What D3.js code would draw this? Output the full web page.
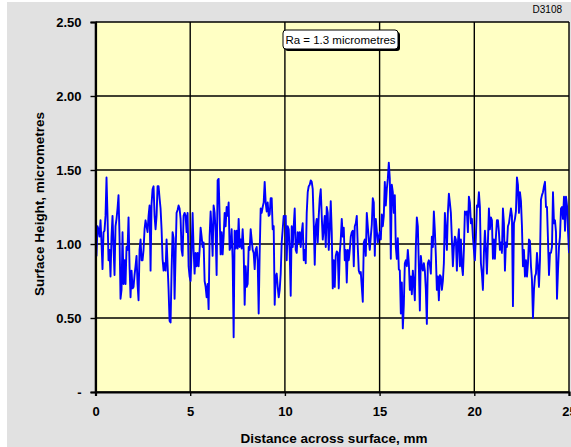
<!DOCTYPE html>
<html>
<head>
<meta charset="utf-8">
<script src="https://cdn.jsdelivr.net/npm/d3@7"></script>
<style>
	html, body { margin: 0; padding: 0; background: #ffffff; }
	svg { display: block; }
	text { font-family: Arial, "Liberation Sans", sans-serif; }
</style>
</head>
<body>
<script>
	/**
	 * Data
	 */
	let profileLength = 25; // mm
	let heights = [
		1.05, 0.92, 1.12, 1.10, 1.05, 1.16, 1.01, 0.83, 1.08, 1.09, 1.19, 1.45, 1.19, 0.89, 0.96, 0.78, 1.05, 1.19, 0.98, 0.79,
		1.12, 1.17, 1.24, 1.33, 1.05, 0.63, 0.69, 1.08, 0.73, 0.89, 0.73, 0.98, 0.96, 1.18, 0.85, 0.64, 0.82, 0.70, 0.71, 0.79,
		0.85, 0.92, 0.73, 0.62, 0.96, 1.03, 0.89, 0.89, 0.96, 1.10, 1.16, 1.12, 1.08, 1.19, 1.26, 0.82, 1.27, 1.37, 1.39, 1.19,
		1.10, 1.19, 1.39, 1.39, 1.31, 1.24, 1.10, 0.90, 0.82, 0.87, 0.82, 1.03, 0.86, 0.69, 0.48, 0.47, 0.82, 1.08, 1.04, 0.63,
		0.92, 1.21, 1.23, 1.26, 1.24, 1.17, 0.96, 0.92, 1.19, 1.21, 1.19, 1.08, 1.21, 0.85,
		0.78, 0.75, 0.96, 1.21, 0.96, 0.80, 0.94, 0.85, 0.94, 0.85, 0.96, 1.11, 1.05, 0.98, 1.01, 0.75, 0.71, 0.64, 0.73, 0.56,
		1.05, 1.22, 1.10, 0.92, 1.26, 1.21, 1.08, 0.79, 1.43, 1.44, 1.19, 0.93, 1.08, 0.93, 1.05, 1.21, 1.12, 1.25, 1.19, 1.28,
		0.96, 0.98, 1.10, 0.89, 0.37, 1.09, 0.97, 1.09, 0.97, 1.17, 0.98, 1.03, 0.97, 1.10, 0.96, 0.59, 0.85, 0.71, 0.73, 0.98,
		0.96, 1.10, 1.03, 0.96, 0.94, 0.83, 0.96, 0.98, 0.89, 0.53, 0.94, 1.24, 1.21, 1.25, 1.28, 1.42, 1.28, 1.22, 1.28, 1.19,
		1.20, 1.31, 1.31, 1.10, 1.12, 0.59, 0.78, 0.80, 0.71, 0.64, 0.69, 0.80, 1.01, 1.10, 1.19,
		1.18, 1.19, 0.89, 1.12, 1.10, 0.94, 0.65, 1.12, 0.98, 1.12, 1.24, 0.96, 0.94, 1.08, 1.01, 1.08, 0.98, 1.08, 1.14, 0.89,
		0.96, 0.87, 1.21, 1.35, 1.39, 1.40, 1.43, 1.42, 1.37, 1.14, 0.86, 1.12, 1.17, 1.01, 1.19, 1.31, 1.37, 1.19, 1.03, 1.10,
		1.19, 0.98, 1.25, 1.21, 0.96, 1.10, 1.29, 1.08, 0.70, 0.89, 0.71, 0.92, 0.95, 0.94, 0.70, 0.94, 1.03, 1.17, 1.05, 1.11,
		0.89, 0.96, 0.74, 0.96, 0.89, 0.96, 1.05, 1.08, 1.09, 0.85, 1.12, 1.14, 1.19, 0.98, 0.82, 0.80, 0.81, 0.71, 0.61, 1.01,
		1.03, 0.92, 1.21, 1.12, 1.03, 0.96, 1.05, 1.13, 1.31, 1.28, 0.92, 1.17, 1.09, 1.01, 1.05,
		1.08, 1.03, 1.20, 1.12, 1.19, 1.42, 1.26, 1.37, 1.44, 1.55, 1.44, 0.90, 1.40, 1.35, 1.21, 1.33, 0.98, 0.90, 1.04, 0.83,
		0.82, 0.53, 0.74, 0.43, 0.59, 0.87, 0.89, 0.85, 0.96, 0.87, 0.69, 0.78, 0.66, 0.82, 0.73, 0.62, 0.98, 1.18, 1.12, 0.85,
		0.55, 0.92, 0.85, 0.82, 0.87, 0.82, 0.69, 0.46, 0.87, 0.89, 0.86, 0.80, 1.05, 0.98, 1.22, 1.09, 0.92, 0.69, 0.78, 0.62,
		0.79, 0.78, 0.69, 0.75, 0.87, 1.21, 1.10, 0.96, 1.21, 1.34, 1.28, 1.21, 1.03, 0.85, 0.98, 1.05, 1.03, 0.82, 1.01, 1.10,
		0.85, 1.03, 0.85, 0.79, 0.96, 1.22, 1.20, 1.22, 1.08, 1.32, 1.28, 1.14, 1.17, 1.05, 0.96,
		0.89, 1.05, 1.26, 1.25, 1.35, 1.25, 0.87, 0.80, 0.69, 0.94, 1.09, 0.96, 0.80, 1.01, 1.24, 1.10, 1.18, 1.16, 0.90, 1.03,
		0.90, 1.05, 1.16, 1.16, 1.08, 0.96, 1.01, 0.94, 1.24, 1.14, 0.82, 1.01, 0.98, 1.12, 1.14, 1.19, 1.24, 1.19, 0.58, 1.14,
		1.17, 1.22, 1.45, 1.40, 1.21, 1.35, 1.29, 1.12, 0.85, 0.96, 0.78, 0.89, 0.78, 0.87, 1.03, 1.02, 0.85, 0.76, 0.50, 0.69,
		0.78, 0.80, 0.94, 0.85, 0.71, 0.89, 1.30, 1.33, 1.35, 1.39, 1.42, 1.25, 1.25, 1.03, 0.79, 0.94, 0.94, 0.98, 1.35, 1.14,
		1.16, 1.08, 0.63, 0.82, 0.98, 1.05, 1.24, 1.25, 1.17, 1.32, 1.09, 1.32, 1.26, 1.09, 0.94
	];
	let xTicks = [0, 5, 10, 15, 20, 25];
	let yTicks = [0, 0.5, 1, 1.5, 2, 2.5];
	let yTickLabels = ["-", "0.50", "1.00", "1.50", "2.00", "2.50"];
	let xTitle = "Distance across surface, mm";
	let yTitle = "Surface Height, micrometres";
	let note = "Ra = 1.3 micrometres";
	let figureId = "D3108";

	/**
	 * Layout
	 */
	let width = 571;
	let height = 447;
	let plot = { left: 95.5, right: 569, top: 22, bottom: 392 };

	let svg = d3.select("body").append("svg")
		.attr("width", width)
		.attr("height", height);

	// Grey chart area
	svg.append("rect")
		.attr("x", 7).attr("y", 2)
		.attr("width", width - 7).attr("height", height - 2)
		.attr("fill", "#e1e1e1");

	let xScale = d3.scaleLinear().domain([0, profileLength]).range([plot.left, plot.right]);
	let yScale = d3.scaleLinear().domain([0, 2.5]).range([plot.bottom, plot.top]);

	// Plot background
	svg.append("rect")
		.attr("x", plot.left).attr("y", plot.top)
		.attr("width", plot.right - plot.left).attr("height", plot.bottom - plot.top)
		.attr("fill", "#ffffc4");

	// Gridlines
	svg.append("g").selectAll("line.h")
		.data(yTicks)
		.enter().append("line")
		.attr("x1", plot.left).attr("x2", plot.right)
		.attr("y1", function(d) { return yScale(d); })
		.attr("y2", function(d) { return yScale(d); })
		.attr("stroke", "#000").attr("stroke-width", 1.4);

	svg.append("g").selectAll("line.v")
		.data(xTicks)
		.enter().append("line")
		.attr("x1", function(d) { return xScale(d); })
		.attr("x2", function(d) { return xScale(d); })
		.attr("y1", plot.top).attr("y2", plot.bottom)
		.attr("stroke", "#000").attr("stroke-width", 1.4);

	// Profile line
	svg.append("clipPath").attr("id", "clip")
		.append("rect")
		.attr("x", plot.left).attr("y", plot.top)
		.attr("width", plot.right - plot.left).attr("height", plot.bottom - plot.top);

	let step = profileLength / (heights.length - 1);
	let line = d3.line()
		.x(function(d, i) { return xScale(i * step); })
		.y(function(d) { return yScale(d); });

	svg.append("path")
		.datum(heights)
		.attr("clip-path", "url(#clip)")
		.attr("d", line)
		.attr("fill", "none")
		.attr("stroke", "#0000ff")
		.attr("stroke-width", 1.9)
		.attr("stroke-linejoin", "round");

	// Axes
	let yAxis = d3.axisLeft(yScale)
		.tickValues(yTicks)
		.tickSize(5)
		.tickPadding(9)
		.tickFormat(function(d, i) { return yTickLabels[i]; });

	let xAxis = d3.axisBottom(xScale)
		.tickValues(xTicks)
		.tickSize(4)
		.tickPadding(11)
		.tickFormat(d3.format("d"));

	let gy = svg.append("g")
		.attr("transform", "translate(" + plot.left + ",0)")
		.call(yAxis);

	let gx = svg.append("g")
		.attr("transform", "translate(0," + plot.bottom + ")")
		.call(xAxis);

	[gx, gy].forEach(function(g) {
		g.select(".domain").attr("stroke", "#000").attr("stroke-width", 2.2);
		g.selectAll(".tick line").attr("stroke", "#000").attr("stroke-width", 1.4);
		g.selectAll(".tick text")
			.attr("fill", "#000")
			.style("font-size", "13px")
			.style("font-weight", "bold")
			.style("font-family", "Arial, 'Liberation Sans', sans-serif");
	});
	gy.selectAll(".tick text").attr("dy", "0.35em");

	// Axis titles
	svg.append("text")
		.attr("x", 334).attr("y", 443)
		.attr("text-anchor", "middle")
		.style("font-size", "13.5px")
		.style("font-weight", "bold")
		.text(xTitle);

	svg.append("text")
		.attr("transform", "translate(44,204) rotate(-90)")
		.attr("text-anchor", "middle")
		.style("font-size", "13.5px")
		.style("font-weight", "bold")
		.text(yTitle);

	// Figure id
	svg.append("text")
		.attr("x", 562).attr("y", 13)
		.attr("text-anchor", "end")
		.style("font-size", "10px")
		.text(figureId);

	// Ra note box
	let noteBox = svg.append("g").attr("transform", "translate(283,30)");
	noteBox.append("rect")
		.attr("x", 2).attr("y", 2)
		.attr("width", 115).attr("height", 19)
		.attr("rx", 3)
		.attr("fill", "#000");
	noteBox.append("rect")
		.attr("width", 115).attr("height", 19)
		.attr("rx", 3)
		.attr("fill", "#fff")
		.attr("stroke", "#000")
		.attr("stroke-width", 1);
	noteBox.append("text")
		.attr("x", 57.5).attr("y", 13.5)
		.attr("text-anchor", "middle")
		.style("font-size", "11.5px")
		.text(note);
</script>
</body>
</html>
